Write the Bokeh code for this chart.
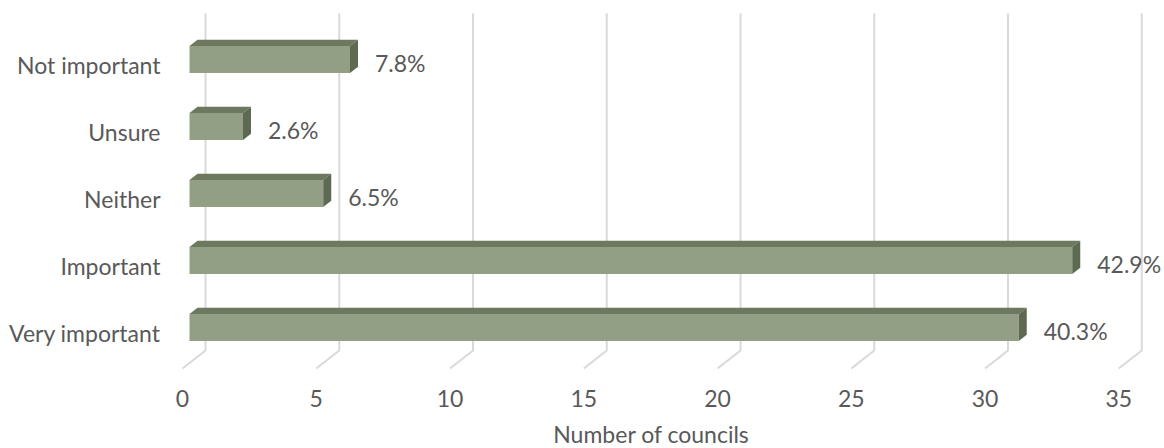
from bokeh.plotting import figure
from bokeh.models import Range1d, ColumnDataSource
from bokeh.core.properties import value
from bokeh.embed import file_html
from bokeh.resources import INLINE

# ---- data ----
categories = ["Very important", "Important", "Neither", "Unsure", "Not important"]
councils = [31, 33, 5, 2, 6]
pct_labels = ["40.3%", "42.9%", "6.5%", "2.6%", "7.8%"]
ticks = [0, 5, 10, 15, 20, 25, 30, 35]
x_title = "Number of councils"

# ---- layout (pixels) ----
W, H = 1164, 448
SX = 26.75          # px per council
X0 = 182            # screen x of 0 on front floor edge
ROW = 67            # px between rows
Y0 = 327            # screen y of first row centre

def dx(px):
    return px / SX

def dy(px):
    return px / ROW

def sx_to_data(X):
    return (X - X0) / SX

def sy_to_data(Y):
    return (Y0 - Y) / ROW

FLOOR_DX, FLOOR_DY = 23, 18
BAR_FRONT = 7
BAR_DEPTH = 8
BAR_DEPTH_Y = BAR_DEPTH * FLOOR_DY / FLOOR_DX
HALF = 13.5

FONT = "Lato"
FS = "23px"
TXT = "#595959"
FRONT = "#939F85"
TOP = "#6D795F"
SIDE = "#5E6951"
GRID = "#D9D9D9"

p = figure(width=W, height=H, output_backend="svg", toolbar_location=None,
           x_range=Range1d(sx_to_data(0), sx_to_data(W)),
           y_range=Range1d(sy_to_data(H), sy_to_data(0)),
           min_border=0, outline_line_color=None)
p.axis.visible = False
p.grid.visible = False
p.background_fill_color = "white"
p.border_fill_color = "white"

# gridlines (back wall + floor diagonal)
gx, gy = [], []
for t in ticks:
    xb = t + dx(FLOOR_DX)
    gx.append([xb, xb, t])
    gy.append([sy_to_data(13), sy_to_data(350), sy_to_data(368)])
p.multi_line(gx, gy, line_color=GRID, line_width=2)

# bars
fx0, fx1, fyb, fyt = [], [], [], []
txs, tys, sxs, sys_ = [], [], [], []
ddx, ddy = dx(BAR_DEPTH), dy(BAR_DEPTH_Y)
for i, v in enumerate(councils):
    x0 = dx(BAR_FRONT)
    x1 = x0 + v
    yb = i - dy(HALF)
    yt = i + dy(HALF)
    fx0.append(x0); fx1.append(x1); fyb.append(yb); fyt.append(yt)
    txs.append([x0, x1, x1 + ddx, x0 + ddx])
    tys.append([yt, yt, yt + ddy, yt + ddy])
    sxs.append([x1, x1, x1 + ddx, x1 + ddx])
    sys_.append([yb, yt, yt + ddy, yb + ddy])

p.quad(left=fx0, right=fx1, bottom=fyb, top=fyt, fill_color=FRONT, line_color=None)
p.patches(txs, tys, fill_color=TOP, line_color=None)
p.patches(sxs, sys_, fill_color=SIDE, line_color=None)

# category labels
cat_src = ColumnDataSource(dict(
    x=[sx_to_data(160)] * len(categories),
    y=[i - dy(5) for i in range(len(categories))],
    t=categories))
p.text(x="x", y="y", text="t", source=cat_src, text_align="right",
       text_baseline="middle", text_font=value(FONT), text_font_size=FS,
       text_color=TXT)

# value labels
val_src = ColumnDataSource(dict(
    x=[dx(BAR_FRONT) + v + dx(25) for v in councils],
    y=[i - dy(3) for i in range(len(councils))],
    t=pct_labels))
p.text(x="x", y="y", text="t", source=val_src, text_align="left",
       text_baseline="middle", text_font=value(FONT), text_font_size=FS,
       text_color=TXT)

# tick labels
tick_src = ColumnDataSource(dict(
    x=ticks, y=[sy_to_data(398)] * len(ticks), t=[str(t) for t in ticks]))
p.text(x="x", y="y", text="t", source=tick_src, text_align="center",
       text_baseline="middle", text_font=value(FONT), text_font_size=FS,
       text_color=TXT)

# axis title
p.text(x=[sx_to_data(651)], y=[sy_to_data(447)], text=[x_title],
       text_align="center", text_baseline="bottom", text_font=value(FONT),
       text_font_size=FS, text_color=TXT)

open("out.html", "w").write(file_html(p, INLINE))
